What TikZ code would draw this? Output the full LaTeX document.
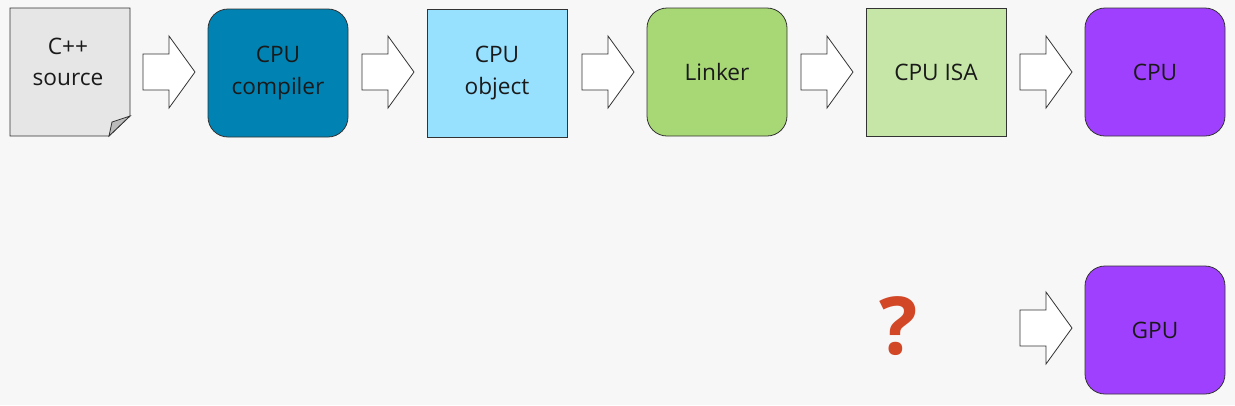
\documentclass[tikz,border=0pt]{standalone}
\usepackage{fontspec}
\setmainfont{Open Sans}
\definecolor{bg}{HTML}{F7F7F7}
\definecolor{cpucomp}{HTML}{0083B3}
\definecolor{cpuobj}{HTML}{97E1FF}
\definecolor{linker}{HTML}{A8D875}
\definecolor{isa}{HTML}{C5E6A6}
\definecolor{proc}{HTML}{A040FF}
\definecolor{srcfill}{HTML}{E6E6E6}
\definecolor{foldfill}{HTML}{BBBBBB}
\definecolor{qmark}{HTML}{D24726}
\definecolor{edge}{HTML}{333333}
\definecolor{txt}{HTML}{1A1A1A}
\begin{document}
\begin{tikzpicture}[x=0.75pt,y=-0.75pt,
  lbl/.style={align=center, text=txt, font=\fontsize{17pt}{23.5pt}\selectfont},
  box/.style={lbl, draw=edge, line width=0.6pt, minimum width=105pt, minimum height=96pt,
    inner sep=0pt},
  rbox/.style={box, rounded corners=15pt},
  barrow/.style={draw=edge, fill=white, line width=0.6pt}]
\fill[bg] (0,0) rectangle (1235,405);
\useasboundingbox (0,0) rectangle (1235,405);
% C++ source with folded corner
\filldraw[srcfill, draw=edge, line width=0.6pt] (10,8) -- (130,8) -- (130,116) -- (109,136) -- (10,136) -- cycle;
\filldraw[foldfill, draw=edge, line width=0.6pt] (130,116) -- (112,122) -- (109,136) -- cycle;
\node[lbl] (src) at (68,62) {C++\\source};
\node[rbox, fill=cpucomp] (comp) at (278,73) {CPU\\compiler};
\node[box, fill=cpuobj] (obj) at (497,73) {CPU\\object};
\node[rbox, fill=linker] (link) at (717,72) {Linker};
\node[box, fill=isa] (isa) at (936,72) {CPU ISA};
\node[rbox, fill=proc] (cpu) at (1155,72) {CPU};
\node[rbox, fill=proc] (gpu) at (1155,330) {GPU};
\node[text=qmark, font=\fontsize{60pt}{62pt}\selectfont\bfseries] (q) at (899,326) {?};
% block arrows
\foreach \x/\y in {143/72, 362/72, 582/72, 801/72, 1020/72, 1020/328}{
  \draw[barrow] (\x,\y-18) -- (\x+26,\y-18) -- (\x+26,\y-36) -- (\x+52,\y) -- (\x+26,\y+36) -- (\x+26,\y+18) -- (\x,\y+18) -- cycle;
}
\end{tikzpicture}
\end{document}
